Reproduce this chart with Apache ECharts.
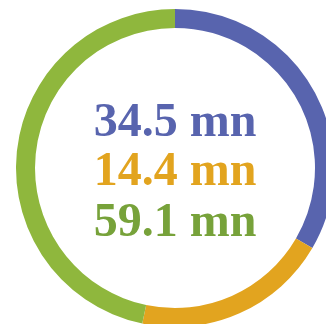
<!DOCTYPE html>
<html>
<head>
<meta charset="utf-8">
<script src="https://cdn.jsdelivr.net/npm/echarts@6/dist/echarts.min.js"></script>
<style>
  html, body { margin: 0; padding: 0; background: #fff; }
  #chart { width: 326px; height: 324px; }
</style>
</head>
<body>
<div id="chart"></div>
<script>
"use strict";
// ring segments (share of the circle)
const names = ["blue", "orange", "green"];
const ringShares = [33.4, 19.9, 46.7];
// figures printed in the middle
const amounts = [34.5, 14.4, 59.1];
const unit = "mn";
const ringColors = ["#5864ae", "#e2a41f", "#8fb73d"];
const textColors = ["#5864ae", "#e2a41f", "#77a23a"];

const chart = echarts.init(document.getElementById("chart"));

// vertical middle of each line of text
const lineMid = [124, 173, 224];

chart.setOption({
  animation: false,
  series: [{
    type: "pie",
    center: [175, 168],
    radius: [140, 159],
    startAngle: 90,
    clockwise: true,
    label: { show: false },
    labelLine: { show: false },
    emphasis: { disabled: true },
    itemStyle: { borderWidth: 0 },
    data: ringShares.map((v, i) => ({
      name: names[i],
      value: v,
      itemStyle: { color: ringColors[i] }
    }))
  }],
  graphic: amounts.map((v, i) => ({
    type: "text",
    x: 175,
    y: lineMid[i],
    style: {
      text: v.toFixed(1) + " " + unit,
      fill: textColors[i],
      font: "bold 48px 'Liberation Serif', serif",
      align: "center",
      verticalAlign: "middle"
    }
  }))
});
</script>
</body>
</html>
